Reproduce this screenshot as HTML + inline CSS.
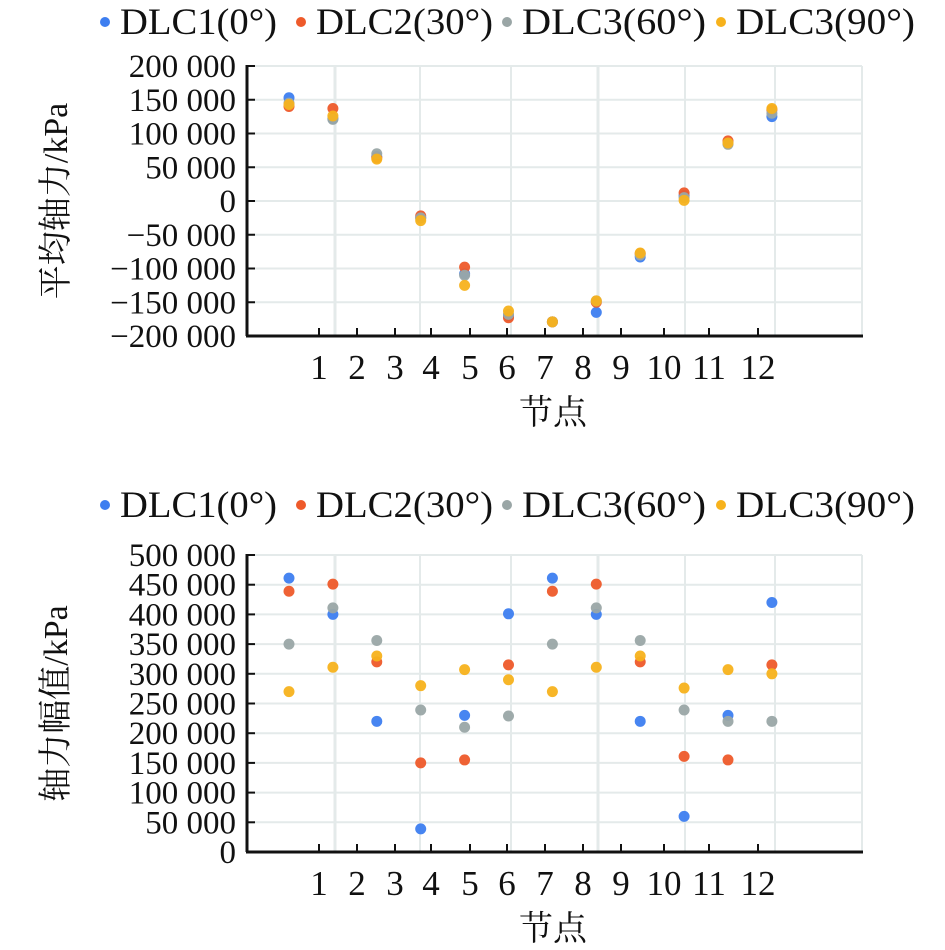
<!DOCTYPE html>
<html><head><meta charset="utf-8"><style>
html,body{margin:0;padding:0;background:#fff;width:945px;height:950px;overflow:hidden}
svg text{font-family:"Liberation Serif","Noto Serif CJK SC",serif;fill:#111}
</style></head><body>
<svg id="svg" width="945" height="950" viewBox="0 0 945 950" xmlns="http://www.w3.org/2000/svg"></svg>
<script>
const categories=["1","2","3","4","5","6","7","8","9","10","11","12"];
const seriesNames=["DLC1(0°)","DLC2(30°)","DLC3(60°)","DLC3(90°)"];
const colors=["#3d7ef0","#ee5a2a","#9aa6a6","#f7b21c"];
const meanBlue=[153000,122000,66000,-25000,-108000,-170000,-179000,-165000,-83000,8000,86000,125000];
const meanRed=[140000,137000,64000,-22000,-98000,-173000,-179000,-150000,-78000,12000,89000,135000];
const meanGray=[145000,121000,70000,-25000,-110000,-168000,-179000,-148000,-80000,5000,84000,130000];
const meanYellow=[143000,126000,62000,-29000,-125000,-163000,-179000,-148000,-77000,1000,86000,137000];
const ampBlue=[461000,400000,220000,39000,230000,401000,461000,400000,220000,60000,230000,420000];
const ampRed=[439000,451000,320000,150000,155000,315000,439000,451000,320000,161000,155000,315000];
const ampGray=[350000,411000,356000,239000,210000,229000,350000,411000,356000,239000,220000,220000];
const ampYellow=[270000,311000,330000,280000,307000,290000,270000,311000,330000,276000,307000,300000];
const topTicks=[200000,150000,100000,50000,0,-50000,-100000,-150000,-200000];
const botTicks=[500000,450000,400000,350000,300000,250000,200000,150000,100000,50000,0];

const NS="http://www.w3.org/2000/svg";
const svg=document.getElementById('svg');
function mk(tag,attrs,parent){const e=document.createElementNS(NS,tag);for(const k in attrs)e.setAttribute(k,attrs[k]);(parent||svg).appendChild(e);return e;}
function fmt(v){const s=Math.abs(v).toString().replace(/\B(?=(\d{3})+(?!\d))/g," ");return (v<0?"−":"")+s;}
const X0=247,X1=862;
const tickX=[319,357,395,431,470,507,545,583,621,664,709,758];
const vGrid=[335,420,511,598,685,775];
function xPos(i){return 289+i*43.9;}

function chart(cfg){
  const g=mk('g',{});
  
  
  const yScale=v=>cfg.bottom-(v-cfg.min)/(cfg.max-cfg.min)*(cfg.bottom-cfg.top);
  const lg=mk('g',{},g);
  
  
  const lx=[105,301,507,721];
  const lw=[157,177,184,179];
  seriesNames.forEach((n,k)=>{
    const it=mk('g',{},lg);
    
    
    mk('circle',{cx:lx[k],cy:cfg.legendY,r:5,fill:colors[k]},it);
    const t=mk('text',{x:lx[k]+15,y:cfg.legendY+12,'font-size':37,textLength:lw[k],lengthAdjust:'spacingAndGlyphs'},it);
    t.textContent=n;
  });
  cfg.ticks.forEach(v=>{
    const y=yScale(v);
    const l=mk('line',{x1:X0,x2:X1,y1:y,y2:y,stroke:'#e4eaea','stroke-width':2},g);
    
    
  });
  vGrid.forEach((x,j)=>{
    mk('line',{x1:x,x2:x,y1:cfg.top,y2:cfg.bottom,stroke:'#e4eaea','stroke-width':(j===0||j===3)?3:2},g);
  });
  mk('line',{x1:X1,x2:X1,y1:cfg.top,y2:cfg.bottom,stroke:'#e4eaea','stroke-width':2},g);
  cfg.ticks.forEach(v=>{
    const y=yScale(v);
    mk('line',{x1:X0,x2:X0+8,y1:y,y2:y,stroke:'#111','stroke-width':2},g);
    const t=mk('text',{x:236,y:y+11,'text-anchor':'end','font-size':33},g);
    
    
    t.textContent=fmt(v);
  });
  const ya=mk('line',{x1:X0,x2:X0,y1:cfg.top-1,y2:cfg.bottom,stroke:'#111','stroke-width':3},g);
  
  
  const xa=mk('line',{x1:X0-1,x2:X1+1,y1:cfg.bottom,y2:cfg.bottom,stroke:'#111','stroke-width':3},g);
  
  
  categories.forEach((c,i)=>{
    const x=tickX[i];
    mk('line',{x1:x,x2:x,y1:cfg.bottom-8,y2:cfg.bottom,stroke:'#111','stroke-width':2},g);
    const t=mk('text',{x:x,y:cfg.bottom+43,'text-anchor':'middle','font-size':35},g);
    
    
    t.textContent=c;
  });
  const yt=mk('text',{x:0,y:0,'text-anchor':'middle','font-size':34,transform:`translate(67,${(cfg.top+cfg.bottom)/2}) rotate(-90)`},g);
  
  
  yt.textContent=cfg.ytitle;
  const xt=mk('text',{x:553,y:cfg.bottom+88,'text-anchor':'middle','font-size':34},g);
  
  
  xt.textContent='节点';
  cfg.series.forEach((arr,k)=>{
    arr.forEach((v,i)=>{
      const c=mk('circle',{cx:xPos(i),cy:yScale(v),r:5.5,fill:colors[k],opacity:0.95},g);
      
      
    });
  });
}
chart({name:'mean-axial-force-chart',top:66,bottom:336,min:-200000,max:200000,ticks:topTicks,legendY:22,ytitle:'平均轴力/kPa',series:[meanBlue,meanRed,meanGray,meanYellow]});
chart({name:'axial-force-amplitude-chart',top:555,bottom:852,min:0,max:500000,ticks:botTicks,legendY:505,ytitle:'轴力幅值/kPa',series:[ampBlue,ampRed,ampGray,ampYellow]});
</script>
</body></html>
